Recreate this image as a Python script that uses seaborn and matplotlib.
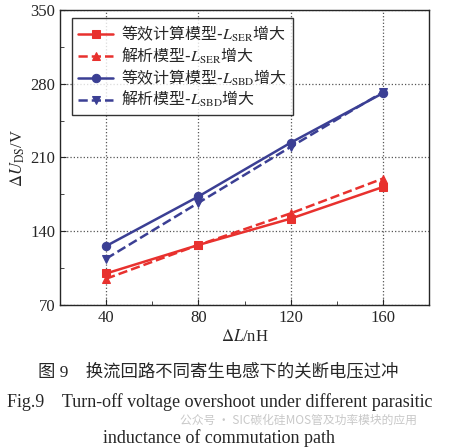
import matplotlib
matplotlib.use("Agg")
import matplotlib.pyplot as plt
import seaborn as sns
import pandas as pd
from matplotlib.ticker import MultipleLocator
from matplotlib.font_manager import FontProperties

# data
delta_l = [40, 80, 120, 160]
ser_equiv = [100, 127, 152, 182]
ser_analytic = [95, 127, 157, 190]
sbd_equiv = [126, 173, 224, 271]
sbd_analytic = [114, 167, 220, 272]

labels = [
    r"等效计算模型-$L_{\mathrm{SER}}$增大",
    r"解析模型-$L_{\mathrm{SER}}$增大",
    r"等效计算模型-$L_{\mathrm{SBD}}$增大",
    r"解析模型-$L_{\mathrm{SBD}}$增大",
]

RED = "#e8312e"
BLUE = "#3b3f94"

sns.set_style("ticks")
plt.rcParams["font.family"] = ["Liberation Serif", "Noto Sans CJK SC"]
plt.rcParams["mathtext.fontset"] = "stix"

fig = plt.figure(figsize=(4.49, 4.48), dpi=100)
ax = fig.add_axes([0.1336, 0.319, 0.822, 0.659])

series = [
    (ser_equiv, labels[0], RED, "-", "s"),
    (ser_analytic, labels[1], RED, "--", "^"),
    (sbd_equiv, labels[2], BLUE, "-", "o"),
    (sbd_analytic, labels[3], BLUE, "--", "v"),
]
for vals, lab, col, ls, mk in series:
    df = pd.DataFrame({"x": delta_l, "y": vals})
    sns.lineplot(data=df, x="x", y="y", ax=ax, color=col, linestyle=ls,
                 marker=mk, markersize=6, markeredgecolor=col, linewidth=1.8,
                 label=lab)

ax.set_xlim(20, 180)
ax.set_ylim(70, 350)
ax.xaxis.set_major_locator(MultipleLocator(40))
ax.xaxis.set_minor_locator(MultipleLocator(20))
ax.yaxis.set_major_locator(MultipleLocator(70))
ax.yaxis.set_minor_locator(MultipleLocator(35))
ax.tick_params(which="both", direction="in", labelsize=12, top=False, right=False)
ax.tick_params(which="major", length=4)
ax.tick_params(which="minor", length=3)
ax.grid(True, which="major", linestyle=":", color="#555555", linewidth=0.9)
for s in ax.spines.values():
    s.set_linewidth(1.0)

ax.set_xlabel(r"$\Delta L$/nH", fontsize=12, labelpad=2)
ax.set_ylabel(r"$\Delta U_{\mathrm{DS}}$/V", fontsize=12, labelpad=2)

leg_font = FontProperties(family=["Noto Sans CJK SC", "Liberation Serif"], size=11.5)
leg = ax.legend(loc="upper left", bbox_to_anchor=(0.012, 0.998), prop=leg_font,
                frameon=True, fancybox=False, edgecolor="black",
                handlelength=2.2, labelspacing=0.1, borderpad=0.35,
                handletextpad=0.5)
leg.get_frame().set_linewidth(1.0)

fig.text(0.485, 0.17, "图 9　换流回路不同寄生电感下的关断电压过冲",
         ha="center", va="center", fontsize=12.5)
fig.text(0.015, 0.103, "Fig.9    Turn-off voltage overshoot under different parasitic",
         ha="left", va="center", fontsize=13)
fig.text(0.487, 0.022, "inductance of commutation path",
         ha="center", va="center", fontsize=13)
fig.text(0.40, 0.062, "公众号 · SIC碳化硅MOS管及功率模块的应用",
         ha="left", va="center", fontsize=8.5, color="#c8c8c8",
         family=["Noto Sans CJK SC", "DejaVu Sans"])

fig.savefig("out.png", dpi=100)
